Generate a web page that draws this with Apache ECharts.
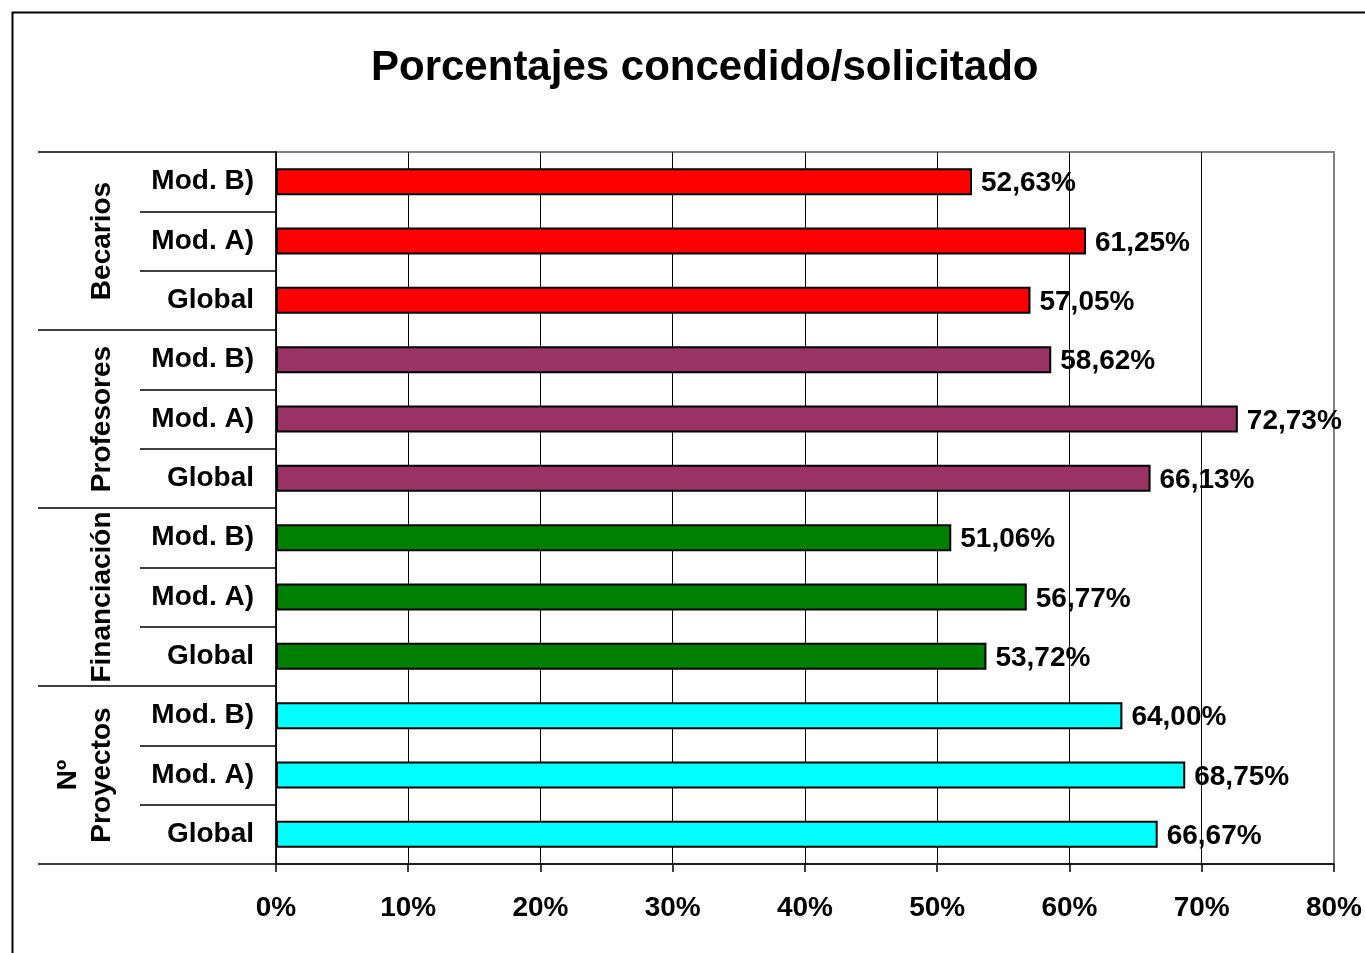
<!DOCTYPE html>
<html>
<head>
<meta charset="utf-8">
<script src="https://cdn.jsdelivr.net/npm/echarts@6/dist/echarts.min.js"></script>
<style>
html,body{margin:0;padding:0;background:#fff;}
#chart{width:1365px;height:953px;}
</style>
</head>
<body>
<div id="chart"></div>
<script>
// Data (bottom to top order along the category axis)
const groups = ['Nº\nProyectos', 'Financiación', 'Profesores', 'Becarios'];
const subCategories = ['Global', 'Mod. A)', 'Mod. B)'];
const proyectos = [66.67, 68.75, 64.00];
const financiacion = [53.72, 56.77, 51.06];
const profesores = [66.13, 72.73, 58.62];
const becarios = [57.05, 61.25, 52.63];
const groupColors = ['#00FFFF', '#008000', '#993366', '#FF0000'];
const xTicks = [0, 10, 20, 30, 40, 50, 60, 70, 80];
const titleText = 'Porcentajes concedido/solicitado';

const groupValues = [proyectos, financiacion, profesores, becarios];
const categories = [];
const barData = [];
groupValues.forEach((vals, gi) => {
  vals.forEach((v, si) => {
    categories.push(subCategories[si]);
    barData.push({ value: v, itemStyle: { color: groupColors[gi] } });
  });
});

const FONT = '"Liberation Sans", Arial, sans-serif';
const chart = echarts.init(document.getElementById('chart'), null, { renderer: 'canvas' });
chart.setOption({
  animation: false,
  backgroundColor: '#fff',
  title: {
    text: titleText,
    left: 366,
    top: 42,
    textStyle: { fontFamily: FONT, fontWeight: 'bold', fontSize: 42, color: '#000' }
  },
  graphic: [{
    type: 'rect',
    left: 10, top: 10,
    shape: { width: 1400, height: 1000 },
    style: { fill: 'none', stroke: '#000', lineWidth: 2 },
    silent: true
  }],
  grid: {
    left: 276, right: 31, top: 152, bottom: 89,
    show: true, borderColor: '#808080', borderWidth: 2, backgroundColor: '#fff'
  },
  xAxis: {
    type: 'value',
    min: xTicks[0], max: xTicks[xTicks.length - 1], interval: 10,
    axisLine: { show: true, lineStyle: { color: '#000', width: 1.5 } },
    axisTick: { show: true, length: 8, lineStyle: { color: '#000', width: 1.5 } },
    axisLabel: {
      formatter: '{value}%', margin: 30,
      fontFamily: FONT, fontWeight: 'bold', fontSize: 28, color: '#000'
    },
    splitLine: { show: true, showMaxLine: false, lineStyle: { color: '#000', width: 1 } }
  },
  yAxis: [{
    type: 'category',
    data: categories,
    axisLine: { show: true, lineStyle: { color: '#000', width: 1.5 } },
    axisTick: { show: true, interval: 0, length: 136, lineStyle: { color: '#000', width: 1.5 } },
    axisLabel: {
      interval: 0, margin: 22, fontFamily: FONT, fontWeight: 'bold', fontSize: 28, color: '#000'
    },
    splitLine: { show: false }
  }, {
    type: 'category',
    data: groups,
    position: 'left',
    offset: 136,
    axisLine: { show: false },
    axisTick: { show: true, interval: 0, length: 102, lineStyle: { color: '#000', width: 1.5 } },
    axisLabel: {
      interval: 0, rotate: 90, margin: 21, lineHeight: 34,
      fontFamily: FONT, fontWeight: 'bold', fontSize: 28, color: '#000'
    },
    splitLine: { show: false }
  }],
  series: [{
    type: 'bar',
    yAxisIndex: 0,
    data: barData,
    barWidth: 27,
    itemStyle: { borderColor: '#000', borderWidth: 2 },
    label: {
      show: true, position: 'right', distance: 9, offset: [0, 2],
      formatter: p => p.value.toFixed(2).replace('.', ',') + '%',
      fontFamily: FONT, fontWeight: 'bold', fontSize: 28, color: '#000'
    }
  }]
});
</script>
</body>
</html>
